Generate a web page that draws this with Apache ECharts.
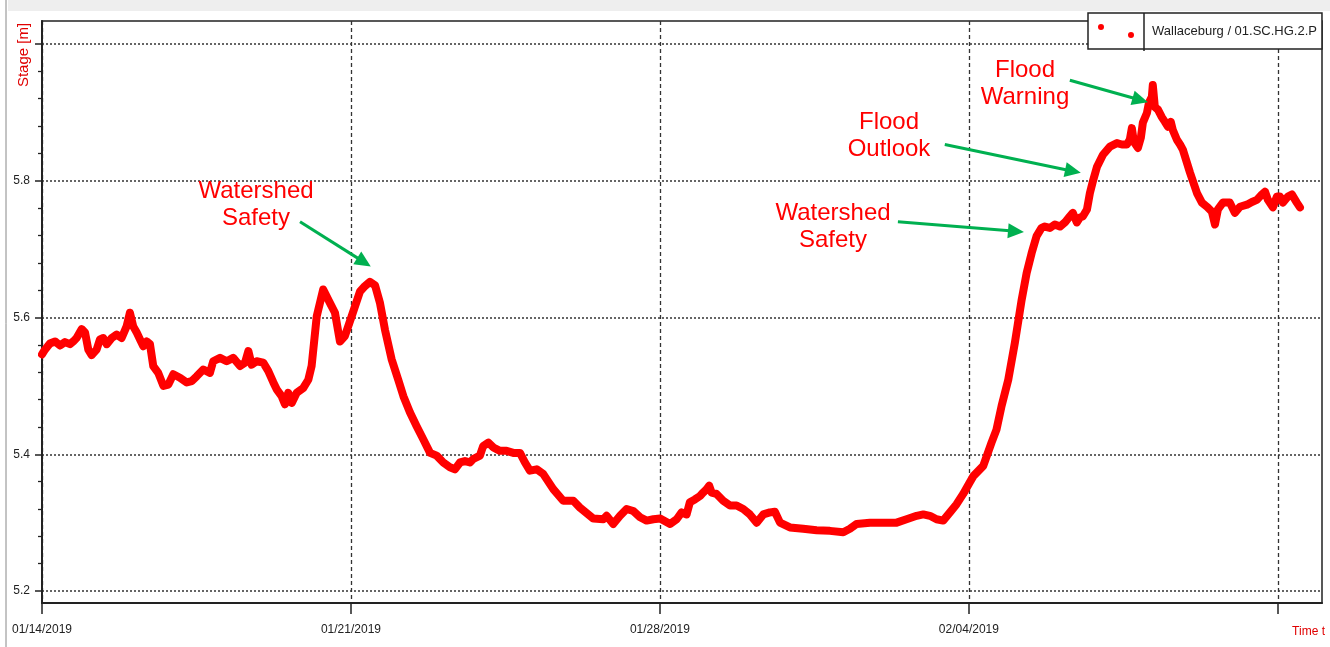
<!DOCTYPE html>
<html>
<head>
<meta charset="utf-8">
<script src="https://cdn.jsdelivr.net/npm/echarts@6/dist/echarts.min.js"></script>
<style>
html,body{margin:0;padding:0;background:#fff;}
#c{width:1330px;height:647px;}
</style>
</head>
<body>
<div id="c"></div>
<script>
// ---------- data ----------
const seriesName = 'Wallaceburg / 01.SC.HG.2.P';
const startDateUTC = Date.UTC(2019, 0, 14); // 01/14/2019 00:00
// hours since 01/14/2019 00:00
const hours = [0,1.6,4.3,7.1,9.8,12.5,15.2,17.0,18.8,21.6,23.4,25.2,27.0,29.7,31.5,33.3,35.2,37.9,40.6,43.3,46.0,47.8,49.6,51.5,53.3,55.1,56.9,58.7,60.5,63.2,66.0,68.7,71.4,75.0,78.7,81.4,84.1,87.7,91.3,93.1,96.8,100.4,104.0,107.7,110.4,112.2,114.0,116.7,120.3,123.0,125.8,127.6,130.3,132.1,133.9,135.8,138.5,142.1,144.8,146.6,149.4,152.9,156.6,159.3,162.0,164.7,168.4,172.9,175.6,178.3,181.1,183.8,186.5,190.1,193.7,196.5,200.1,203.7,207.3,211.0,214.6,218.2,221.8,224.5,227.3,230.0,232.7,234.5,238.1,239.9,242.7,245.4,249.0,252.6,256.3,259.9,262.6,265.3,269.0,272.6,278.0,283.4,288.9,292.5,299.8,305.2,307.0,310.6,314.3,317.9,321.5,325.2,328.8,332.4,336.1,341.5,345.1,347.8,350.5,352.3,355.0,357.8,359.5,361.4,362.8,364.1,366.8,370.4,374.1,377.7,381.3,384.9,388.6,392.2,395.8,398.5,401.3,406.7,413.9,421.2,428.4,435.7,439.3,442.9,450.2,457.4,464.7,470.1,475.6,479.2,482.8,486.4,490.0,493.7,497.3,500.9,504.5,506.4,511.8,516.3,519.0,521.8,525.4,529.0,532.7,535.4,538.1,540.8,543.5,545.3,548.0,550.7,553.5,556.2,558.9,560.5,562.7,564.3,566.0,568.2,569.8,571.6,573.6,576.9,580.7,584.5,587.2,589.9,591.5,592.6,593.7,595.9,597.5,598.6,600.8,601.9,603.5,604.0,605.1,606.8,608.9,610.6,612.2,613.8,614.9,617.1,618.8,620.4,624.2,628.0,630.7,633.4,636.1,637.8,639.4,642.1,645.9,648.6,651.4,655.2,657.9,660.6,663.3,665.0,666.6,669.3,671.5,673.1,674.7,677.5,679.6,682.3,684.0];
// stage [m]
const stage = [5.546,5.553,5.562,5.565,5.559,5.564,5.561,5.565,5.570,5.583,5.578,5.553,5.545,5.553,5.568,5.570,5.561,5.570,5.575,5.570,5.587,5.607,5.587,5.578,5.568,5.558,5.565,5.561,5.529,5.519,5.500,5.502,5.517,5.512,5.505,5.507,5.514,5.524,5.519,5.536,5.541,5.536,5.541,5.529,5.534,5.551,5.531,5.536,5.534,5.522,5.505,5.495,5.485,5.473,5.490,5.475,5.490,5.497,5.509,5.529,5.602,5.641,5.621,5.607,5.565,5.573,5.602,5.638,5.646,5.652,5.647,5.621,5.582,5.539,5.509,5.485,5.461,5.441,5.422,5.402,5.398,5.388,5.381,5.378,5.388,5.390,5.388,5.393,5.398,5.412,5.417,5.410,5.405,5.405,5.402,5.402,5.388,5.376,5.378,5.371,5.349,5.332,5.332,5.322,5.306,5.305,5.310,5.298,5.310,5.320,5.317,5.308,5.303,5.305,5.306,5.298,5.305,5.315,5.312,5.330,5.334,5.339,5.344,5.349,5.354,5.344,5.342,5.332,5.325,5.325,5.320,5.312,5.300,5.312,5.315,5.316,5.300,5.293,5.291,5.289,5.288,5.286,5.291,5.298,5.300,5.300,5.300,5.305,5.310,5.312,5.310,5.305,5.303,5.315,5.327,5.342,5.359,5.368,5.383,5.417,5.436,5.471,5.509,5.563,5.626,5.665,5.694,5.719,5.731,5.733,5.731,5.736,5.733,5.739,5.748,5.753,5.739,5.746,5.748,5.758,5.782,5.801,5.820,5.838,5.850,5.855,5.853,5.853,5.860,5.877,5.857,5.848,5.863,5.885,5.899,5.914,5.923,5.940,5.908,5.904,5.893,5.886,5.879,5.886,5.874,5.860,5.853,5.845,5.812,5.782,5.768,5.762,5.755,5.736,5.758,5.768,5.768,5.753,5.762,5.765,5.769,5.772,5.780,5.784,5.772,5.761,5.777,5.777,5.768,5.777,5.780,5.768,5.761];

const xTickHours = [0, 168, 336, 504, 672];
const xLabelHours = [0, 168, 336, 504];
const yMajorTicks = [5.2, 5.4, 5.6, 5.8, 6.0];
const yLabelTicks = [5.2, 5.4, 5.6, 5.8];
const yMinorTicks = [5.24,5.28,5.32,5.36,5.44,5.48,5.52,5.56,5.64,5.68,5.72,5.76,5.84,5.88,5.92,5.96];

// annotation arrows: tail [hour, stage] -> head [hour, stage]
const arrowTails = [[140.3, 5.740], [465.4, 5.740], [490.9, 5.853], [558.9, 5.947]];
const arrowHeads = [[175.1, 5.681], [529.6, 5.726], [560.6, 5.814], [597.2, 5.918]];
const annotationTexts = ['Watershed\nSafety', 'Watershed\nSafety', 'Flood\nOutlook', 'Flood\nWarning'];

// ---------- chart ----------
const labelFont = "'Liberation Sans', Arial, sans-serif";
const pad2 = n => (n < 10 ? '0' : '') + n;
const fmtDate = h => {
  const d = new Date(startDateUTC + h * 3600000);
  return pad2(d.getUTCMonth() + 1) + '/' + pad2(d.getUTCDate()) + '/' + d.getUTCFullYear();
};

const annotationPos = [[256, 205], [833, 227], [889, 136], [1025, 84]];

const chart = echarts.init(document.getElementById('c'), null, {renderer: 'canvas'});
chart.setOption({
  animation: false,
  backgroundColor: '#ffffff',
  grid: {left: 42, right: 8, top: 21, bottom: 44, show: true, borderColor: '#222', borderWidth: 1.5, containLabel: false},
  legend: {
    data: [{name: seriesName, icon: 'path://M0,3a3,3 0 1,0 6,0a3,3 0 1,0 -6,0Z M30,11a3,3 0 1,0 6,0a3,3 0 1,0 -6,0Z'}],
    left: 1088, top: 13, itemWidth: 36, itemHeight: 14,
    padding: [11, 5, 11, 10], borderColor: '#222', borderWidth: 1.5, backgroundColor: '#fff',
    itemStyle: {borderWidth: 0},
    selectedMode: false,
    textStyle: {fontSize: 13, color: '#222', fontFamily: labelFont, padding: [0, 0, 0, 13]}
  },
  xAxis: {
    type: 'value', min: 0, max: 696, interval: 168,
    axisLine: {show: true, onZero: false, lineStyle: {color: '#222', width: 2}},
    axisTick: {show: true, customValues: xTickHours, length: 11, lineStyle: {color: '#222', width: 1.5}},
    axisLabel: {customValues: xLabelHours, formatter: fmtDate, margin: 21, color: '#222', fontSize: 12, fontFamily: labelFont},
    splitLine: {show: true, lineStyle: {color: '#333', type: [4, 3], width: 1.3}},
    name: 'Time t', nameLocation: 'end', nameGap: 3,
    nameTextStyle: {color: '#e00000', fontSize: 12, fontFamily: labelFont, align: 'right', verticalAlign: 'top', padding: [23, 0, 0, 0]}
  },
  yAxis: [{
    type: 'value', min: 5.1825, max: 6.0336,
    axisLine: {show: true, lineStyle: {color: '#222', width: 2}},
    axisTick: {show: true, customValues: yMajorTicks, length: 7, lineStyle: {color: '#222', width: 1.5}},
    axisLabel: {customValues: yLabelTicks, formatter: v => v.toFixed(1), margin: 12, color: '#222', fontSize: 12, fontFamily: labelFont},
    splitLine: {show: true, lineStyle: {color: '#333', type: [2, 2], width: 1.5}}
  }, {
    type: 'value', min: 5.1825, max: 6.0336, position: 'left',
    axisLine: {show: false},
    axisTick: {show: true, customValues: yMinorTicks, length: 4, lineStyle: {color: '#222', width: 1.3}},
    axisLabel: {show: false},
    splitLine: {show: false}
  }],
  series: [{
    name: seriesName,
    type: 'line',
    yAxisIndex: 0,
    showSymbol: false,
    symbol: 'none',
    data: hours.map((h, i) => [h, stage[i]]),
    lineStyle: {color: '#ff0000', width: 8, join: 'round', cap: 'round'},
    itemStyle: {color: '#ff0000'},
    markLine: {
      silent: true,
      symbol: ['none', 'triangle'],
      symbolSize: [15, 16],
      lineStyle: {color: '#00b050', width: 3, type: 'solid'},
      label: {show: false},
      emphasis: {disabled: true},
      data: arrowTails.map((t, i) => [{coord: t}, {coord: arrowHeads[i]}])
    }
  }],
  graphic: [
    {type: 'rect', shape: {x: 8, y: 0, width: 1322, height: 11}, style: {fill: '#eeeeee'}, silent: true, z: -10},
    {type: 'line', shape: {x1: 6, y1: 0, x2: 6, y2: 647}, style: {stroke: '#888', lineWidth: 1}, silent: true},
    {type: 'line', shape: {x1: 1144, y1: 13, x2: 1144, y2: 51}, style: {stroke: '#222', lineWidth: 1.5}, silent: true, z: 100},
    {type: 'text', x: 24, y: 55, rotation: Math.PI / 2, silent: true,
     style: {text: 'Stage [m]', font: "15px 'Liberation Sans', Arial, sans-serif", fill: '#e00000', align: 'center', verticalAlign: 'middle'}}
  ].concat(annotationTexts.map((t, i) => ({
    type: 'text', x: annotationPos[i][0], y: annotationPos[i][1], silent: true, z: 50,
    style: {text: t, font: "24px 'Liberation Sans', Arial, sans-serif", fill: '#ff0000', align: 'center', verticalAlign: 'middle', lineHeight: 27}
  })))
});
</script>
</body>
</html>
